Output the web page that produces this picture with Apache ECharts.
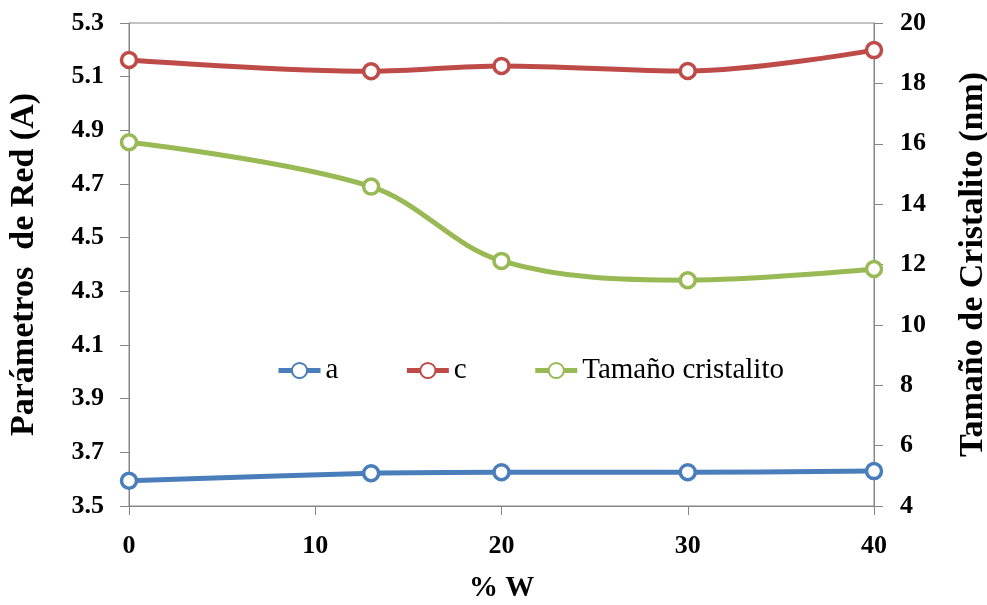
<!DOCTYPE html>
<html>
<head>
<meta charset="utf-8">
<script src="https://cdn.jsdelivr.net/npm/echarts@6/dist/echarts.min.js"></script>
<style>html,body{margin:0;padding:0;background:#fff}#c{width:987px;height:605px}</style>
</head>
<body>
<div id="c"></div>
<script>
const xValues = [0, 13, 20, 30, 40];
const seriesA = [3.594, 3.622, 3.626, 3.626, 3.630];
const seriesC = [5.162, 5.120, 5.140, 5.121, 5.199];
const crystalSize = [16.05, 14.58, 12.12, 11.48, 11.85];
const seriesNames = ['a', 'c', 'Tamaño cristalito'];
const leftTitle = 'Parámetros  de Red (A)';
const rightTitle = 'Tamaño de Cristalito (nm)';
const xTitle = '% W';

const font = 'Liberation Serif';
const axisColor = '#868686';
const pair = (xs, ys) => xs.map((x, i) => [x, ys[i]]);

function lineSeries(name, data, color, yIdx) {
  return {
    name, type: 'line', yAxisIndex: yIdx, data,
    smooth: 0.35,
    symbol: 'circle', symbolSize: 15,
    lineStyle: { color, width: 5 },
    itemStyle: { color: '#fff', borderColor: color, borderWidth: 3.5 },
    emphasis: { disabled: true }
  };
}

const chart = echarts.init(document.getElementById('c'));
chart.setOption({
  animation: false,
  backgroundColor: '#fff',
  grid: { left: 129, right: 113, top: 23, bottom: 99, outerBoundsMode: 'none', containLabel: false, show: true, borderColor: axisColor, borderWidth: 1, backgroundColor: 'transparent' },
  legend: {
    left: 276, top: 356, padding: 0,
    itemWidth: 42, itemHeight: 19, itemGap: 66,
    data: seriesNames,
    lineStyle: { width: 5 },
    textStyle: { fontFamily: font, fontSize: 29, color: '#000' }
  },
  xAxis: {
    type: 'value', min: 0, max: 40, interval: 10,
    name: xTitle, nameLocation: 'middle', nameGap: 68,
    nameTextStyle: { fontFamily: font, fontSize: 29, fontWeight: 'bold', color: '#000' },
    axisLine: { show: true, lineStyle: { color: axisColor, width: 1 } },
    axisTick: { show: true, length: 9, lineStyle: { color: axisColor } },
    axisLabel: { margin: 27, fontFamily: font, fontSize: 26, fontWeight: 'bold', color: '#000' },
    splitLine: { show: false }
  },
  yAxis: [
    {
      type: 'value', min: 3.5, max: 5.3, interval: 0.2, position: 'left',
      name: leftTitle, nameLocation: 'middle', nameGap: 88, nameRotate: 90,
      nameTextStyle: { fontFamily: font, fontSize: 34, fontWeight: 'bold', color: '#000' },
      axisLine: { show: true, lineStyle: { color: axisColor, width: 1 } },
      axisTick: { show: true, length: 9, lineStyle: { color: axisColor } },
      axisLabel: { margin: 25, fontFamily: font, fontSize: 26, fontWeight: 'bold', color: '#000', formatter: v => v.toFixed(1) },
      splitLine: { show: false }
    },
    {
      type: 'value', min: 4, max: 20, interval: 2, position: 'right',
      name: rightTitle, nameLocation: 'middle', nameGap: 82, nameRotate: 90,
      nameTextStyle: { fontFamily: font, fontSize: 34, fontWeight: 'bold', color: '#000' },
      axisLine: { show: true, lineStyle: { color: axisColor, width: 1 } },
      axisTick: { show: true, length: 9, lineStyle: { color: axisColor } },
      axisLabel: { margin: 26, fontFamily: font, fontSize: 26, fontWeight: 'bold', color: '#000' },
      splitLine: { show: false }
    }
  ],
  series: [
    lineSeries(seriesNames[0], pair(xValues, seriesA), '#4A7EBB', 0),
    lineSeries(seriesNames[1], pair(xValues, seriesC), '#BE4B48', 0),
    lineSeries(seriesNames[2], pair(xValues, crystalSize), '#98B954', 1)
  ]
});
</script>
</body>
</html>
